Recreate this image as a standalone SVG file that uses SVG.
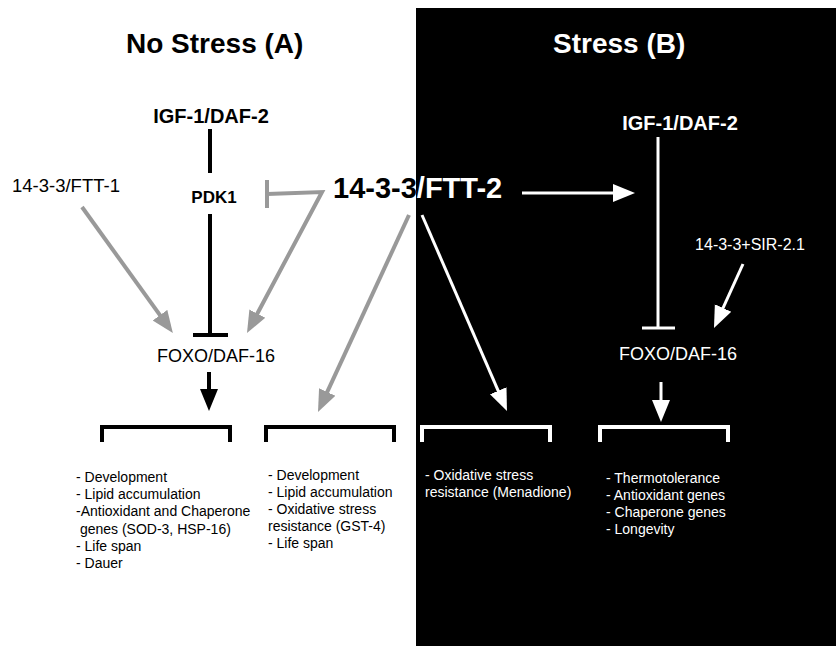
<svg xmlns="http://www.w3.org/2000/svg" width="836" height="646" viewBox="0 0 836 646">
<style>
text{font-family:"Liberation Sans",Arial,Helvetica,sans-serif}
.b{font-weight:bold}
.k{fill:#000}
.w{fill:#fff}
.lst{font-size:14px}
.lg{stroke:#999;stroke-width:4;fill:none}
.lk{stroke:#000;stroke-width:4;fill:none}
.lw{stroke:#fff;stroke-width:3;fill:none}
.brk{stroke-width:4;fill:none;stroke-linejoin:miter}
</style>
<defs>
<marker id="ag" markerUnits="userSpaceOnUse" markerWidth="22" markerHeight="20" refX="12" refY="10" orient="auto"><path d="M0,1 L22,10 L0,19 z" fill="#999"/></marker>
<marker id="ak" markerUnits="userSpaceOnUse" markerWidth="22" markerHeight="20" refX="12" refY="10" orient="auto"><path d="M0,1 L22,10 L0,19 z" fill="#000"/></marker>
<marker id="aw" markerUnits="userSpaceOnUse" markerWidth="22" markerHeight="20" refX="12" refY="10" orient="auto"><path d="M0,1 L22,10 L0,19 z" fill="#fff"/></marker>
<clipPath id="cl"><rect x="0" y="0" width="416" height="646"/></clipPath>
<clipPath id="cr"><rect x="416" y="0" width="420" height="646"/></clipPath>
</defs>
<rect x="0" y="0" width="836" height="646" fill="#fff"/>
<rect id="panelB" x="416" y="8" width="420" height="638" fill="#000"/>

<g id="titleA"><text class="b k" x="126" y="53" font-size="28">No Stress (A)</text></g>
<g id="titleB"><text class="b w" x="553" y="53" font-size="28">Stress (B)</text></g>

<g id="igfA"><text class="b k" x="211" y="123" font-size="20" text-anchor="middle">IGF-1/DAF-2</text></g>
<g id="pdk1"><text class="b k" x="214" y="203" font-size="17" text-anchor="middle">PDK1</text></g>
<g id="ftt1"><text class="k" x="12" y="192" font-size="18.5">14-3-3/FTT-1</text></g>
<g id="ftt2">
<text class="b k" x="333" y="198" font-size="29" clip-path="url(#cl)">14-3-3/FTT-2</text>
<text class="b w" x="333" y="198" font-size="29" clip-path="url(#cr)">14-3-3/FTT-2</text>
</g>
<g id="foxoA"><text class="k" x="216" y="362" font-size="18" text-anchor="middle">FOXO/DAF-16</text></g>
<g id="igfB"><text class="b w" x="680" y="130" font-size="20" text-anchor="middle">IGF-1/DAF-2</text></g>
<g id="sir"><text class="w" x="750" y="250" font-size="16" text-anchor="middle">14-3-3+SIR-2.1</text></g>
<g id="foxoB"><text class="w" x="678" y="360" font-size="18" text-anchor="middle">FOXO/DAF-16</text></g>

<g id="out1">
<path class="brk" stroke="#000" d="M102,442 V427 H230 V442"/>
<text class="k lst"><tspan x="76" y="482">- Development</tspan><tspan x="76" y="499">- Lipid accumulation</tspan><tspan x="76" y="516">-Antioxidant and Chaperone</tspan><tspan x="76" y="534"> genes (SOD-3, HSP-16)</tspan><tspan x="76" y="551">- Life span</tspan><tspan x="76" y="568">- Dauer</tspan></text>
</g>
<g id="out2">
<path class="brk" stroke="#000" d="M266,442 V427 H394 V442"/>
<text class="k lst"><tspan x="268" y="480">- Development</tspan><tspan x="268" y="497">- Lipid accumulation</tspan><tspan x="268" y="514">- Oxidative stress</tspan><tspan x="268" y="531">resistance (GST-4)</tspan><tspan x="268" y="548">- Life span</tspan></text>
</g>
<g id="out3">
<path class="brk" stroke="#fff" d="M422,442 V427 H550 V442"/>
<text class="w lst"><tspan x="425" y="480">- Oxidative stress</tspan><tspan x="425" y="497">resistance (Menadione)</tspan></text>
</g>
<g id="out4">
<path class="brk" stroke="#fff" d="M600,442 V427 H728 V442"/>
<text class="w lst"><tspan x="606" y="483">- Thermotolerance</tspan><tspan x="606" y="500">- Antioxidant genes</tspan><tspan x="606" y="517">- Chaperone genes</tspan><tspan x="606" y="534">- Longevity</tspan></text>
</g>

<g id="connectors">
<line class="lk" x1="210" y1="129" x2="210" y2="173"/>
<line class="lk" x1="210" y1="214" x2="210" y2="335"/>
<line class="lk" x1="193" y1="335" x2="228" y2="335"/>
<line class="lg" x1="82" y1="207" x2="167" y2="324.9" marker-end="url(#ag)"/>
<line class="lg" x1="267" y1="180" x2="267" y2="208"/>
<path class="lg" d="M267,194 L322,192 L251.7,324.2" marker-end="url(#ag)"/>
<line class="lg" x1="409" y1="215" x2="322.2" y2="402.9" marker-end="url(#ag)"/>
<line class="lk" x1="209" y1="372" x2="209" y2="401" marker-end="url(#ak)"/>
<line class="lw" x1="422" y1="215" x2="503" y2="401.8" marker-end="url(#aw)"/>
<line class="lw" x1="522" y1="193" x2="625" y2="193" stroke-width="4" marker-end="url(#aw)"/>
<line class="lw" x1="658" y1="137" x2="658" y2="328"/>
<line class="lw" x1="642" y1="328" x2="675" y2="328" stroke-width="4"/>
<line class="lw" x1="743" y1="264" x2="718.1" y2="318.9" marker-end="url(#aw)"/>
<line class="lw" x1="661" y1="382" x2="661" y2="412" stroke-width="4" marker-end="url(#aw)"/>
</g>
</svg>
